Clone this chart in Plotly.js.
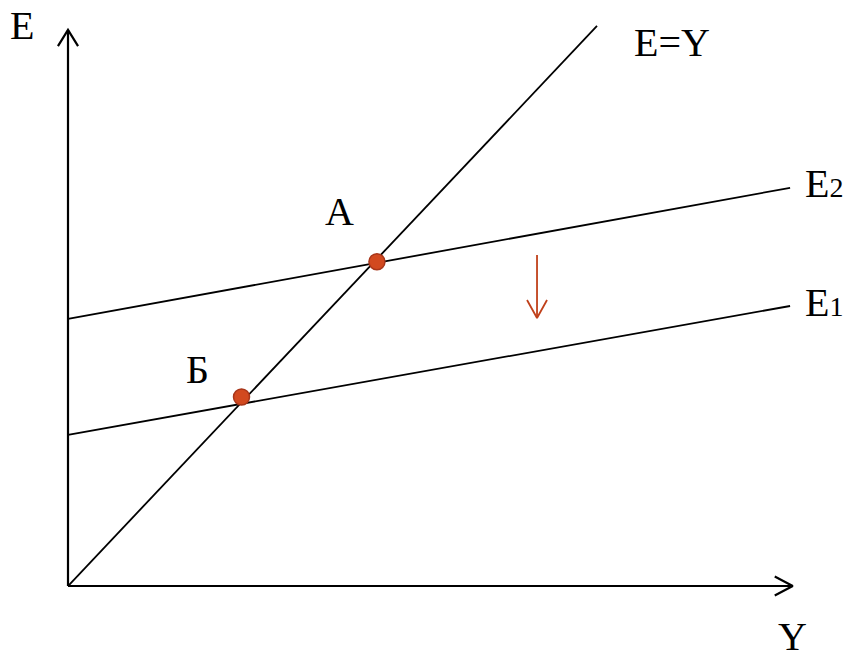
<!DOCTYPE html>
<html><head><meta charset="utf-8">
<script src="https://cdn.plot.ly/plotly-3.0.1.min.js"></script>
<style>html,body{margin:0;padding:0;background:#fff}#chart{width:844px;height:662px}</style>
</head><body><div id="chart"></div>
<script>
// Model data (Y = income/output, E = expenditure)
const lineEY_Y = [0, 10];
const lineEY_E = [0, 10];
const lineE2_Y = [0, 13.65];
const lineE2_E = [4.77, 7.11];
const lineE1_Y = [0, 13.65];
const lineE1_E = [2.70, 5.00];
const eqPoints_Y = [5.84, 3.28];
const eqPoints_E = [5.79, 3.375];
const eqLabels = ['A', 'Б'];
// axis extents
const axisX_Y = [0, 13.7];
const axisX_E = [0, 0];
const axisY_Y = [0, 0];
const axisY_E = [0, 9.93];
// arrowheads (open chevrons)
const headX_Y = [13.36, 13.7, 13.36];
const headX_E = [0.17, 0, -0.17];
const headY_Y = [-0.19, 0, 0.19];
const headY_E = [9.64, 9.93, 9.64];
// shift arrow
const shift_Y = [8.866, 8.866];
const shift_E = [5.91, 4.786];
const shiftHead_Y = [8.677, 8.866, 9.055];
const shiftHead_E = [5.107, 4.786, 5.107];

const black = '#000';
const red = '#c0401a';
const ln = (x, y, color, w) => ({x, y, type: 'scatter', mode: 'lines', line: {color, width: w}, hoverinfo: 'skip', showlegend: false});

const traces = [
  ln(axisX_Y, axisX_E, black, 2.2),
  ln(axisY_Y, axisY_E, black, 2.2),
  ln(headX_Y, headX_E, black, 2.2),
  ln(headY_Y, headY_E, black, 2.2),
  ln(lineEY_Y, lineEY_E, black, 1.8),
  ln(lineE2_Y, lineE2_E, black, 1.8),
  ln(lineE1_Y, lineE1_E, black, 1.8),
  ln(shift_Y, shift_E, red, 1.8),
  ln(shiftHead_Y, shiftHead_E, red, 1.8),
  {x: eqPoints_Y, y: eqPoints_E, type: 'scatter', mode: 'markers',
   marker: {size: 16, color: '#d2491f', line: {color: '#a8361a', width: 1.5}},
   hoverinfo: 'skip', showlegend: false}
];

const font = {family: 'Liberation Serif', size: 40, color: '#000'};
const ann = (x, y, text, xanchor, size) => ({x, y, xref: 'x', yref: 'y', text, showarrow: false,
  xanchor: xanchor || 'center', yanchor: 'middle', font: Object.assign({}, font, size ? {size} : {})});

const annotations = [
  ann(-0.87, 10.0, 'E'),
  ann(13.7, -0.9, 'Y'),
  ann(11.42, 9.7, 'E=Y'),
  ann(13.9, 7.18, 'E<span style="font-size:28px">2</span>', 'left'),
  ann(13.9, 5.06, 'E<span style="font-size:28px">1</span>', 'left'),
  ann(5.14, 6.68, eqLabels[0]),
  ann(2.44, 3.87, eqLabels[1])
];

const layout = {
  width: 844, height: 662,
  margin: {l: 0, r: 0, t: 0, b: 0},
  paper_bgcolor: '#fff', plot_bgcolor: '#fff',
  xaxis: {range: [-1.2854, 14.669], visible: false, fixedrange: true},
  yaxis: {range: [-1.357, 10.464], visible: false, fixedrange: true},
  annotations, showlegend: false
};
Plotly.newPlot('chart', traces, layout, {staticPlot: true});
</script></body></html>
